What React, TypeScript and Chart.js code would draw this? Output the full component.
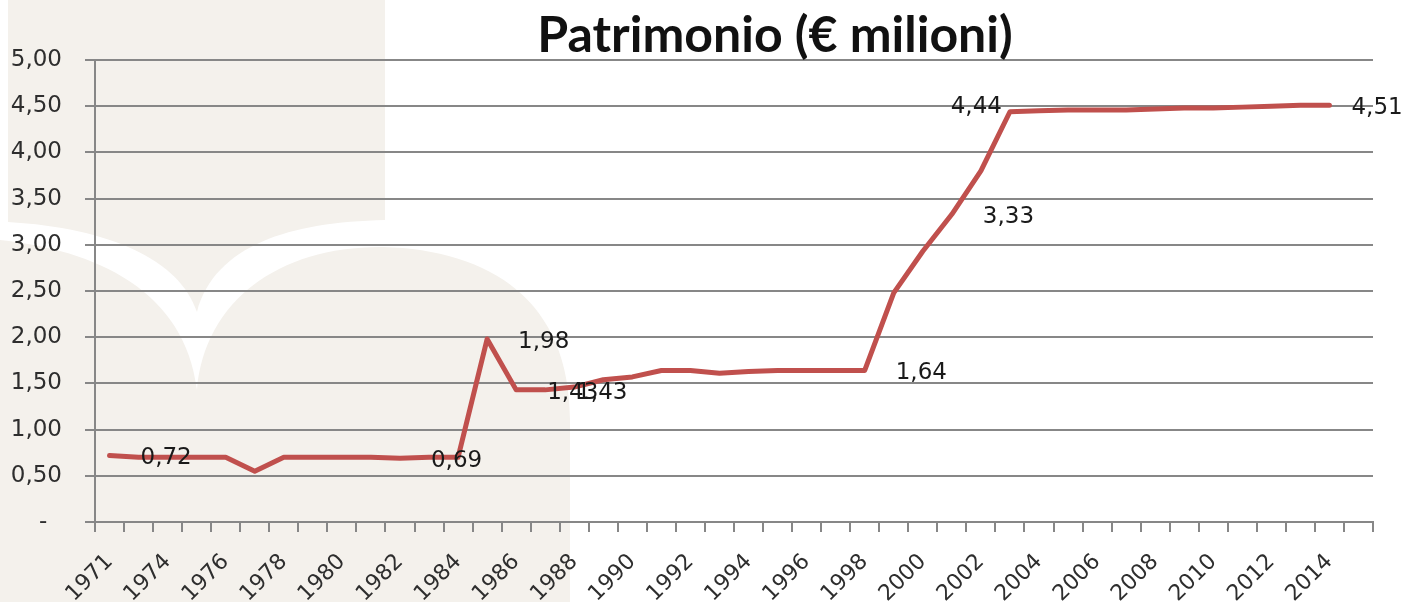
import React, { useEffect, useRef } from 'react';
import { Chart, registerables } from 'chart.js';

Chart.register(...registerables);

// ---- data ----
const chartTitle = 'Patrimonio (€ milioni)';

const years = [
  '1971', '1973', '1974', '1975', '1976', '1977', '1978', '1979', '1980', '1981',
  '1982', '1983', '1984', '1985', '1986', '1987', '1988', '1989', '1990', '1991',
  '1992', '1993', '1994', '1995', '1996', '1997', '1998', '1999', '2000', '2001',
  '2002', '2003', '2004', '2005', '2006', '2007', '2008', '2009', '2010', '2011',
  '2012', '2013', '2014', '2015',
];

const patrimonio = [
  0.72, 0.70, 0.70, 0.70, 0.70, 0.55, 0.70, 0.70, 0.70, 0.70,
  0.69, 0.70, 0.70, 1.98, 1.43, 1.43, 1.46, 1.54, 1.57, 1.64,
  1.64, 1.61, 1.63, 1.64, 1.64, 1.64, 1.64, 2.48, 2.93, 3.33,
  3.80, 4.44, 4.45, 4.46, 4.46, 4.46, 4.47, 4.48, 4.48, 4.49,
  4.50, 4.51, 4.51, null,
];

// indices of the points that carry a value label
const labelIndices = [0, 10, 13, 14, 15, 26, 29, 31, 42];

// y axis range
const yMin = 0;
const yMax = 5;
const yStep = 0.5;

// ---- styling ----
const LINE_COLOR = '#C0504D';
const GRID_COLOR = '#878787';
const TEXT_COLOR = '#2e2e2e';
const BEIGE = '#F4F1EC';
const AXIS_FONT = "'DejaVu Sans', Verdana, sans-serif";

const labelPlacement: Record<number, { align: CanvasTextAlign; dx: number; dy: number }> = {
  31: { align: 'right', dx: -8, dy: -5 },
  42: { align: 'left', dx: 22, dy: 3 },
};
const defaultPlacement = { align: 'left' as CanvasTextAlign, dx: 31, dy: 3 };

const fmt = (v: number) => v.toFixed(2).replace('.', ',');

const watermarkPlugin = {
  id: 'watermark',
  beforeDraw(chart: any) {
    const ctx = chart.ctx as CanvasRenderingContext2D;
    ctx.save();
    ctx.fillStyle = '#ffffff';
    ctx.fillRect(0, 0, chart.width, chart.height);
    ctx.fillStyle = BEIGE;
    // upper block with downward spine
    ctx.beginPath();
    ctx.moveTo(8, 0);
    ctx.lineTo(385, 0);
    ctx.lineTo(385, 220);
    ctx.bezierCurveTo(290, 222, 215, 245, 197, 312);
    ctx.bezierCurveTo(180, 260, 110, 228, 8, 222);
    ctx.closePath();
    ctx.fill();
    // open pages
    ctx.beginPath();
    ctx.moveTo(0, 240);
    ctx.bezierCurveTo(95, 250, 185, 290, 197, 390);
    ctx.bezierCurveTo(205, 300, 280, 246, 383, 247);
    ctx.bezierCurveTo(490, 250, 570, 300, 570, 420);
    ctx.lineTo(570, 602);
    ctx.lineTo(0, 602);
    ctx.closePath();
    ctx.fill();
    ctx.restore();
  },
};

const titlePlugin = {
  id: 'customTitle',
  afterDraw(chart: any) {
    const ctx = chart.ctx as CanvasRenderingContext2D;
    ctx.save();
    ctx.font = "bold 50px Lato, 'Open Sans', sans-serif";
    ctx.fillStyle = '#111111';
    ctx.textAlign = 'center';
    ctx.textBaseline = 'alphabetic';
    ctx.fillText(chartTitle, 775, 52);
    ctx.restore();
  },
};

const valueLabelPlugin = {
  id: 'valueLabels',
  afterDatasetsDraw(chart: any) {
    const ctx = chart.ctx as CanvasRenderingContext2D;
    const meta = chart.getDatasetMeta(0);
    ctx.save();
    ctx.font = `23px ${AXIS_FONT}`;
    ctx.fillStyle = '#1a1a1a';
    ctx.textBaseline = 'middle';
    labelIndices.forEach((i) => {
      const pt = meta.data[i];
      const v = patrimonio[i];
      if (!pt || v == null) return;
      const p = labelPlacement[i] || defaultPlacement;
      ctx.textAlign = p.align;
      ctx.fillText(fmt(v), pt.x + p.dx, pt.y + p.dy);
    });
    ctx.restore();
  },
};

export default function App() {
  const canvasRef = useRef<HTMLCanvasElement | null>(null);

  useEffect(() => {
    document.body.style.margin = '0';
    const canvas = canvasRef.current;
    if (!canvas) return;
    const chart = new Chart(canvas, {
      type: 'line',
      data: {
        labels: years,
        datasets: [
          {
            label: chartTitle,
            data: patrimonio,
            borderColor: LINE_COLOR,
            backgroundColor: LINE_COLOR,
            borderWidth: 5,
            pointRadius: 0,
            pointHoverRadius: 0,
            tension: 0,
            borderJoinStyle: 'round',
            borderCapStyle: 'round',
            spanGaps: false,
          },
        ],
      },
      options: {
        responsive: false,
        animation: false,
        devicePixelRatio: 1,
        layout: { padding: { top: 60, right: 47, left: 0, bottom: 0 } },
        plugins: {
          legend: { display: false },
          title: { display: false },
          tooltip: { enabled: false },
        },
        scales: {
          x: {
            type: 'category',
            offset: true,
            afterFit: (scale: any) => {
              scale.height = 80;
            },
            grid: {
              offset: true,
              drawOnChartArea: false,
              drawTicks: true,
              tickLength: 10,
              color: GRID_COLOR,
              lineWidth: 2,
            },
            border: { display: true, color: GRID_COLOR, width: 2 },
            ticks: {
              autoSkip: false,
              maxRotation: 45,
              minRotation: 45,
              padding: 17,
              color: TEXT_COLOR,
              font: { family: AXIS_FONT, size: 22 },
              callback: (_v: any, idx: number) => (idx % 2 === 0 ? years[idx] : ''),
            },
          },
          y: {
            min: yMin,
            max: yMax,
            afterFit: (scale: any) => {
              scale.width = 95;
            },
            grid: {
              drawTicks: true,
              tickLength: 10,
              color: GRID_COLOR,
              lineWidth: 2,
            },
            border: { display: true, color: GRID_COLOR, width: 2 },
            ticks: {
              stepSize: yStep,
              padding: 23,
              color: TEXT_COLOR,
              font: { family: AXIS_FONT, size: 23 },
              callback: (v: any) => (Number(v) === 0 ? '-  ' : fmt(Number(v))),
            },
          },
        },
      },
      plugins: [watermarkPlugin, valueLabelPlugin, titlePlugin],
    });
    return () => chart.destroy();
  }, []);

  return (
    <div style={{ width: 1420, height: 602 }}>
      <canvas ref={canvasRef} width={1420} height={602} style={{ display: 'block' }} />
    </div>
  );
}
